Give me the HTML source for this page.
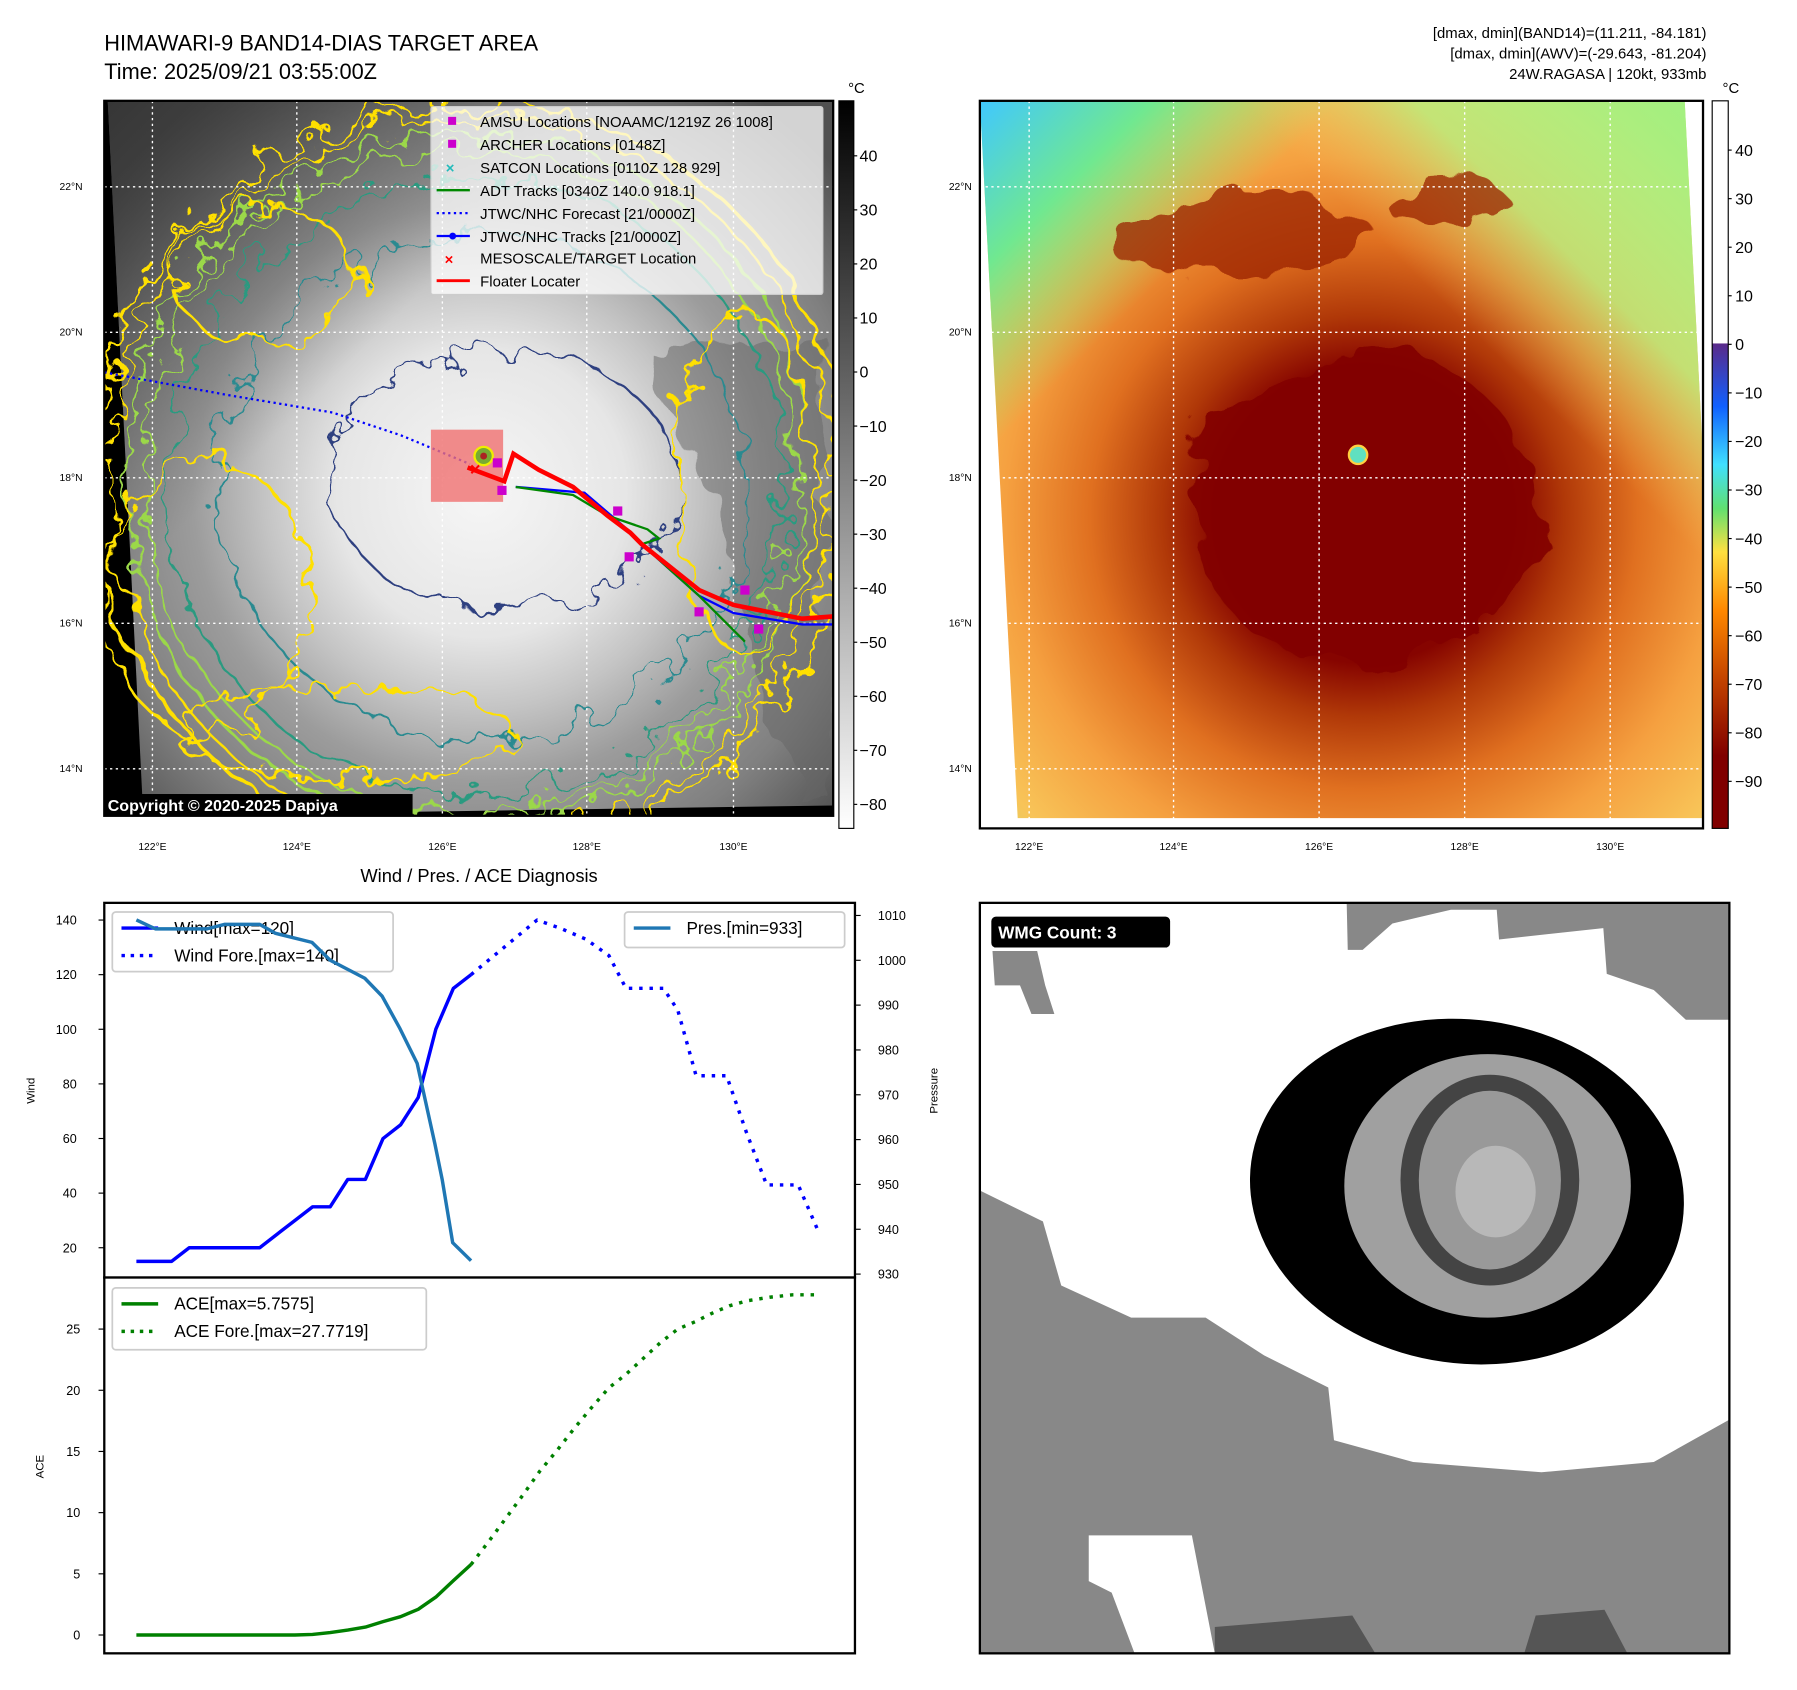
<!DOCTYPE html>
<html><head><meta charset="utf-8"><style>
html,body{margin:0;padding:0;background:#fff}
svg{display:block}
text{font-family:"Liberation Sans","DejaVu Sans",sans-serif}
</style></head><body>
<svg id="s" width="1797" height="1690" viewBox="0 0 1568 1475" preserveAspectRatio="none" xmlns="http://www.w3.org/2000/svg">
<defs>
<radialGradient id="g1" cx="420" cy="430" r="420" gradientUnits="userSpaceOnUse">
<stop offset="0" stop-color="#f6f6f6"/><stop offset="0.3" stop-color="#e6e6e6"/><stop offset="0.45" stop-color="#c4c4c4"/><stop offset="0.6" stop-color="#9c9c9c"/><stop offset="0.8" stop-color="#808080"/><stop offset="1" stop-color="#505050"/>
</radialGradient>
<linearGradient id="g1tl" x1="0" y1="0" x2="1" y2="1"><stop offset="0" stop-color="#333" stop-opacity=".9"/><stop offset=".35" stop-color="#444" stop-opacity="0"/></linearGradient>
<radialGradient id="g2" cx="1190" cy="450" r="460" gradientUnits="userSpaceOnUse">
<stop offset="0" stop-color="#800000"/><stop offset="0.28" stop-color="#860400"/><stop offset="0.38" stop-color="#b03808"/><stop offset="0.52" stop-color="#e07020"/><stop offset="0.68" stop-color="#f5a040"/><stop offset="0.85" stop-color="#f8c458"/><stop offset="1" stop-color="#c0e070"/>
</radialGradient>
<linearGradient id="g2tl" x1="0" y1="0" x2="1" y2="1"><stop offset="0" stop-color="#40c8ff"/><stop offset=".12" stop-color="#70e890"/><stop offset=".25" stop-color="#90e870" stop-opacity="0"/></linearGradient>
<linearGradient id="g2tr" x1="1" y1="0" x2="0" y2="1"><stop offset="0" stop-color="#a0f080"/><stop offset=".2" stop-color="#b8f080" stop-opacity=".8"/><stop offset=".32" stop-color="#f0c060" stop-opacity="0"/></linearGradient>
<linearGradient id="cb1" x1="0" y1="0" x2="0" y2="1"><stop offset="0" stop-color="#000"/><stop offset="1" stop-color="#fff"/></linearGradient>
<linearGradient id="cb2" x1="0" y1="0" x2="0" y2="1">
<stop offset="0" stop-color="#fff"/><stop offset=".333" stop-color="#fff"/><stop offset=".334" stop-color="#5a2a8a"/><stop offset=".42" stop-color="#1060ff"/><stop offset=".5" stop-color="#40e0ff"/><stop offset=".56" stop-color="#60e070"/><stop offset=".62" stop-color="#ffe040"/><stop offset=".7" stop-color="#ff8800"/><stop offset=".8" stop-color="#c04000"/><stop offset=".9" stop-color="#800000"/><stop offset="1" stop-color="#800000"/></linearGradient>
<filter id="wig" x="-10%" y="-10%" width="120%" height="120%"><feTurbulence type="fractalNoise" baseFrequency="0.035" numOctaves="3" seed="4"/><feDisplacementMap in="SourceGraphic" scale="45"/></filter>
<filter id="wig2" x="-10%" y="-10%" width="120%" height="120%"><feTurbulence type="fractalNoise" baseFrequency="0.02" numOctaves="3" seed="7"/><feDisplacementMap in="SourceGraphic" scale="60"/></filter>
<clipPath id="c1"><rect x="91" y="88" width="636" height="624"/></clipPath>
<clipPath id="c2"><rect x="855" y="88" width="631" height="635"/></clipPath>
<clipPath id="c3"><rect x="855" y="788" width="654" height="655"/></clipPath>
</defs>

<text x="91" y="44" font-size="19">HIMAWARI-9 BAND14-DIAS TARGET AREA</text>
<text x="91" y="69" font-size="19">Time: 2025/09/21 03:55:00Z</text>
<g font-size="13" text-anchor="end">
<text x="1489" y="33">[dmax, dmin](BAND14)=(11.211, -84.181)</text>
<text x="1489" y="51">[dmax, dmin](AWV)=(-29.643, -81.204)</text>
<text x="1489" y="69">24W.RAGASA | 120kt, 933mb</text>
</g>

<g clip-path="url(#c1)">
<rect x="91" y="88" width="636" height="624" fill="#000"/>
<polygon points="94,88 727,88 727,703 125,712" fill="url(#g1)"/>
<polygon points="94,88 727,88 727,703 125,712" fill="url(#g1tl)"/>
<path d="M560,300 C620,420 640,520 700,700 L727,700 L727,300 Z" fill="#666" opacity=".5" filter="url(#wig2)"/>
<g fill="none" filter="url(#wig)">
<ellipse cx="410" cy="420" rx="330" ry="330" stroke="#ffe000" stroke-width="3"/>
<ellipse cx="410" cy="420" rx="315" ry="318" stroke="#ffe000" stroke-width="2"/>
<ellipse cx="410" cy="420" rx="300" ry="305" stroke="#9bd84a" stroke-width="2.5"/>
<ellipse cx="410" cy="420" rx="285" ry="290" stroke="#9bd84a" stroke-width="2"/>
<ellipse cx="415" cy="425" rx="270" ry="270" stroke="#2a9a80" stroke-width="2"/>
<ellipse cx="420" cy="425" rx="230" ry="220" stroke="#2a8a90" stroke-width="2"/>
<ellipse cx="440" cy="420" rx="150" ry="115" stroke="#2e3f80" stroke-width="2"/>
<ellipse cx="230" cy="240" rx="80" ry="60" stroke="#ffe000" stroke-width="2.5"/>
<ellipse cx="180" cy="520" rx="90" ry="120" stroke="#ffe000" stroke-width="2.5"/>
<ellipse cx="650" cy="420" rx="60" ry="150" stroke="#ffe000" stroke-width="2.5"/>
<ellipse cx="300" cy="640" rx="150" ry="40" stroke="#ffe000" stroke-width="2.5"/>
</g>
<g stroke="#fff" stroke-width="1.2" stroke-dasharray="2,3">
<line x1="91" y1="163" x2="727" y2="163"/><line x1="91" y1="290" x2="727" y2="290"/><line x1="91" y1="417" x2="727" y2="417"/><line x1="91" y1="544" x2="727" y2="544"/><line x1="91" y1="671" x2="727" y2="671"/>
<line x1="133" y1="88" x2="133" y2="712"/><line x1="259" y1="88" x2="259" y2="712"/><line x1="386" y1="88" x2="386" y2="712"/><line x1="512" y1="88" x2="512" y2="712"/><line x1="640" y1="88" x2="640" y2="712"/>
</g>
<path d="M91,325 L200,345 L290,360 L350,380 L410,405" stroke="#00f" stroke-width="2" stroke-dasharray="2,3" fill="none"/>
<rect x="376" y="375" width="63" height="63" fill="#f07070" opacity=".8"/>
<circle cx="422" cy="398" r="8" fill="#7a3" stroke="#ee0" stroke-width="2"/><circle cx="422" cy="398" r="3" fill="#a22"/>
<polyline points="450,425 510,430 545,460 560,475 610,520 640,535 700,545 727,545" stroke="#00f" stroke-width="2" fill="none"/>
<polyline points="450,425 500,432 530,450 565,462 575,470 560,475 610,520 650,560" stroke="#080" stroke-width="2" fill="none"/>
<polyline points="408,408 440,420 448,396 470,410 500,425 530,450 550,465 560,475 610,515 640,528 700,540 727,538" stroke="#f00" stroke-width="4" fill="none"/>
<g fill="#c0c"><rect x="430" y="400" width="8" height="8"/><rect x="434" y="424" width="8" height="8"/><rect x="535" y="442" width="8" height="8"/><rect x="545" y="482" width="8" height="8"/><rect x="606" y="530" width="8" height="8"/><rect x="646" y="511" width="8" height="8"/><rect x="658" y="545" width="8" height="8"/></g>
<text x="410" y="415" fill="#f00" font-size="16" font-weight="bold">×</text>
<rect x="91" y="693" width="269" height="20" fill="#000"/>
<text x="94" y="708" fill="#fff" font-size="14" font-weight="bold">Copyright © 2020-2025 Dapiya</text>
</g>
<rect x="91" y="88" width="636" height="624" fill="none" stroke="#000" stroke-width="2"/>
<g>
<rect x="376" y="93" width="342" height="164" fill="#fff" fill-opacity=".75" stroke="#ccc" rx="2"/>
<g font-size="13">
<rect x="391" y="102" width="7" height="7" fill="#c0c"/><text x="419" y="111">AMSU Locations [NOAAMC/1219Z 26 1008]</text>
<rect x="391" y="122" width="7" height="7" fill="#c0c"/><text x="419" y="131">ARCHER Locations [0148Z]</text>
<text x="389" y="151" fill="#2bb" font-weight="bold">×</text><text x="419" y="151">SATCON Locations [0110Z 128 929]</text>
<line x1="381" y1="166" x2="410" y2="166" stroke="#080" stroke-width="2"/><text x="419" y="171">ADT Tracks [0340Z 140.0 918.1]</text>
<line x1="381" y1="186" x2="410" y2="186" stroke="#00f" stroke-width="2" stroke-dasharray="2,3"/><text x="419" y="191">JTWC/NHC Forecast [21/0000Z]</text>
<line x1="381" y1="206" x2="410" y2="206" stroke="#00f" stroke-width="2"/><circle cx="395" cy="206" r="3" fill="#00f"/><text x="419" y="211">JTWC/NHC Tracks [21/0000Z]</text>
<text x="388" y="231" fill="#f00" font-weight="bold">×</text><text x="419" y="230">MESOSCALE/TARGET Location</text>
<line x1="381" y1="245" x2="410" y2="245" stroke="#f00" stroke-width="2.5"/><text x="419" y="250">Floater Locater</text>
</g></g>
<g font-size="9">
<g text-anchor="end"><text x="72" y="166">22°N</text><text x="72" y="293">20°N</text><text x="72" y="420">18°N</text><text x="72" y="547">16°N</text><text x="72" y="674">14°N</text></g>
<g text-anchor="middle"><text x="133" y="742">122°E</text><text x="259" y="742">124°E</text><text x="386" y="742">126°E</text><text x="512" y="742">128°E</text><text x="640" y="742">130°E</text></g>
</g>
<g>
<rect x="732" y="88" width="13" height="635" fill="url(#cb1)" stroke="#000" stroke-width="1"/>
<text x="740" y="81" font-size="13">°C</text>
<g font-size="14" id="cb1l"></g>
</g>

<g clip-path="url(#c2)">
<rect x="855" y="88" width="631" height="635" fill="#fff"/>
<polygon points="855,88 1470,88 1486,400 1486,714 888,714" fill="url(#g2)"/>
<polygon points="855,88 1470,88 1486,400 1486,714 888,714" fill="url(#g2tl)"/>
<polygon points="855,88 1470,88 1486,400 1486,714 888,714" fill="url(#g2tr)"/>
<g filter="url(#wig2)">
<ellipse cx="1080" cy="205" rx="120" ry="35" fill="#9a2000" opacity=".75"/>
<ellipse cx="1260" cy="175" rx="55" ry="20" fill="#9a2000" opacity=".75"/>
<ellipse cx="1190" cy="445" rx="150" ry="140" fill="#820200" opacity=".9"/>
</g>
<circle cx="1185" cy="397" r="8" fill="#60e0c0" stroke="#ffd040" stroke-width="2"/>
<g stroke="#fff" stroke-width="1.2" stroke-dasharray="2,3">
<line x1="855" y1="163" x2="1486" y2="163"/><line x1="855" y1="290" x2="1486" y2="290"/><line x1="855" y1="417" x2="1486" y2="417"/><line x1="855" y1="544" x2="1486" y2="544"/><line x1="855" y1="671" x2="1486" y2="671"/>
<line x1="898" y1="88" x2="898" y2="723"/><line x1="1024" y1="88" x2="1024" y2="723"/><line x1="1151" y1="88" x2="1151" y2="723"/><line x1="1278" y1="88" x2="1278" y2="723"/><line x1="1405" y1="88" x2="1405" y2="723"/>
</g>
</g>
<rect x="855" y="88" width="631" height="635" fill="none" stroke="#000" stroke-width="2"/>
<g font-size="9">
<g text-anchor="end"><text x="848" y="166">22°N</text><text x="848" y="293">20°N</text><text x="848" y="420">18°N</text><text x="848" y="547">16°N</text><text x="848" y="674">14°N</text></g>
<g text-anchor="middle"><text x="898" y="742">122°E</text><text x="1024" y="742">124°E</text><text x="1151" y="742">126°E</text><text x="1278" y="742">128°E</text><text x="1405" y="742">130°E</text></g>
</g>
<g>
<rect x="1494" y="88" width="14" height="635" fill="url(#cb2)" stroke="#000" stroke-width="1"/>
<text x="1503" y="81" font-size="13">°C</text>
<g font-size="14" id="cb2l"></g>
</g>

<g clip-path="url(#c3)">
<rect x="855" y="788" width="654" height="655" fill="#fff"/>
<polygon points="855,1039 910,1066 926,1122 987,1150 1052,1150 1103,1183 1159,1211 1164,1257 1233,1276 1345,1285 1443,1276 1509,1239 1509,1443 855,1443" fill="#888"/>
<polygon points="1175,785 1509,785 1509,890 1471,890 1443,864 1402,850 1399,810 1308,820 1306,794 1266,794 1215,806 1189,829 1176,829" fill="#888"/>
<polygon points="866,830 905,830 912,860 920,885 900,885 890,860 868,860" fill="#888"/>
<polygon points="950,1340 1040,1340 1060,1443 990,1443 970,1390 950,1380" fill="#fff"/>
<polygon points="1060,1420 1180,1410 1200,1443 1060,1443" fill="#555"/>
<polygon points="1340,1410 1400,1405 1420,1443 1330,1443" fill="#555"/>
<ellipse cx="1280" cy="1040" rx="190" ry="150" fill="#000" transform="rotate(8 1280 1040)"/>
<ellipse cx="1298" cy="1035" rx="125" ry="115" fill="#a0a0a0"/>
<ellipse cx="1300" cy="1030" rx="78" ry="92" fill="#444"/>
<ellipse cx="1300" cy="1030" rx="62" ry="78" fill="#999"/>
<ellipse cx="1305" cy="1040" rx="35" ry="40" fill="#b8b8b8"/>
</g>
<rect x="855" y="788" width="654" height="655" fill="none" stroke="#000" stroke-width="2"/>
<rect x="865" y="800" width="156" height="27" rx="4" fill="#000"/>
<text x="871" y="819" fill="#fff" font-size="15" font-weight="bold">WMG Count: 3</text>

<text x="418" y="770" font-size="16" text-anchor="middle">Wind / Pres. / ACE Diagnosis</text>
<g id="chart"></g>
</svg>
<script>
const cb1Ticks=["40","30","20","10","0","−10","−20","−30","−40","−50","−60","−70","−80"];
const cb2Ticks=["40","30","20","10","0","−10","−20","−30","−40","−50","−60","−70","−80","−90"];
const windObsIdx=[0,1,2,3,4,5,6,7,8,9,10,11,12,13,14,15,16,17,18,19];
const windObs=[15,15,15,20,20,20,20,20,25,30,35,35,45,45,60,65,75,100,115,120];
const windForeIdx=[19,22.75,24.06,25.52,26.83,27.8,29.92,30.74,31.78,33.51,34.65,35.79,37.58,38.79];
const windFore=[120,140,137,133,127,115,115,107,83,83,62,43,43,25];
const presIdx=[0,1.08,2.05,4,5,7,7.9,9.97,11,12.97,13.95,14.93,15.94,16.95,17.37,17.96,19];
const pres=[1009,1007,1007,1007,1008,1008,1006,1004,1000,996,992,985,977,959,951,937,933];
const aceObsIdx=[0,9,10,11,12,13,14,15,16,17,18,19];
const aceObs=[0,0,0.05,0.2,0.4,0.65,1.1,1.5,2.1,3.1,4.45,5.76];
const aceForeIdx=[19,19.98,20.96,21.93,22.91,23.89,24.87,25.85,26.83,27.8,28.78,29.76,30.74,31.72,32.7,33.67,34.65,35.95,37.26,38.79];
const aceFore=[5.76,7.6,9.5,11.4,13.4,15.1,16.9,18.6,20.2,21.3,22.6,23.9,25,25.6,26.3,26.9,27.3,27.6,27.8,27.8];
const windTicks=[20,40,60,80,100,120,140];
const presTicks=[930,940,950,960,970,980,990,1000,1010];
const aceTicks=[0,5,10,15,20,25];

const NS='http://www.w3.org/2000/svg';
function mk(tag,attrs,parent){const e=document.createElementNS(NS,tag);for(const k in attrs)e.setAttribute(k,attrs[k]);parent.appendChild(e);return e;}
const g1=document.getElementById('cb1l');
cb1Ticks.forEach((t,i)=>{const y=136+i*47.17;const tx=mk('text',{x:750,y:y+5},g1);tx.textContent=t;


mk('line',{x1:745,x2:748,y1:y,y2:y,stroke:'#000'},g1);});
const g2=document.getElementById('cb2l');
cb2Ticks.forEach((t,i)=>{const y=131+i*42.38;const tx=mk('text',{x:1514,y:y+5},g2);tx.textContent=t;


mk('line',{x1:1508,x2:1511,y1:y,y2:y,stroke:'#000'},g2);});

const X=i=>119+i*(292/19);
const YW=v=>803+(140-v)*(286/120);
const YP=p=>799+(1010-p)*(313/80);
const YA=v=>1427-v*(267/25);
const C=document.getElementById('chart');
function line(xs,ys,fx,fy,color,dash,name){
  const pts=xs.map((x,i)=>X(x).toFixed(1)+','+fy(ys[i]).toFixed(1)).join(' ');
  const p=mk('polyline',{points:pts,fill:'none',stroke:color,'stroke-width':3,'stroke-dasharray':dash||'none','stroke-linejoin':'round'},C);
  
  
}
mk('rect',{x:91,y:788,width:655,height:327,fill:'#fff',stroke:'#000','stroke-width':2},C);
mk('rect',{x:91,y:1115,width:655,height:328,fill:'#fff',stroke:'#000','stroke-width':2},C);
windTicks.forEach(v=>{const y=YW(v);mk('line',{x1:86,x2:91,y1:y,y2:y,stroke:'#000'},C);const t=mk('text',{x:67,y:y+4,'font-size':11,'text-anchor':'end'},C);t.textContent=v;

});
presTicks.forEach(v=>{const y=YP(v);mk('line',{x1:746,x2:751,y1:y,y2:y,stroke:'#000'},C);const t=mk('text',{x:766,y:y+4,'font-size':11},C);t.textContent=v;

});
aceTicks.forEach(v=>{const y=YA(v);mk('line',{x1:86,x2:91,y1:y,y2:y,stroke:'#000'},C);const t=mk('text',{x:70,y:y+4,'font-size':11,'text-anchor':'end'},C);t.textContent=v;

});
[['Wind',30,952],['Pressure',818,952],['ACE',38,1280]].forEach(a=>{const t=mk('text',{x:a[1],y:a[2],'font-size':10,'text-anchor':'middle',transform:'rotate(-90 '+a[1]+' '+a[2]+')'},C);t.textContent=a[0];

});
function legend(x,y,w,h,items,name){
  const g=mk('g',{},C);
  
  
  mk('rect',{x:x,y:y,width:w,height:h,fill:'#fff','fill-opacity':0.8,stroke:'#ccc','stroke-width':1.5,rx:3},g);
  items.forEach((it,i)=>{const yy=y+14+i*24;mk('line',{x1:x+8,x2:x+40,y1:yy,y2:yy,stroke:it[1],'stroke-width':3,'stroke-dasharray':it[2]||'none'},g);
   const t=mk('text',{x:x+54,y:yy+5,'font-size':15},g);t.textContent=it[0];});
}
legend(98,796,245,52,[['Wind[max=120]','#00f'],['Wind Fore.[max=140]','#00f','3,5']],'wind-legend');
legend(545,796,192,31,[['Pres.[min=933]','#1f77b4']],'pressure-legend');
legend(98,1124,274,54,[['ACE[max=5.7575]','#008000'],['ACE Fore.[max=27.7719]','#008000','3,5']],'ace-legend');
line(windObsIdx,windObs,X,YW,'#0000ff',null,'wind-line');
line(windForeIdx,windFore,X,YW,'#0000ff','3,6','wind-forecast-line');
line(presIdx,pres,X,YP,'#1f77b4',null,'pressure-line');
line(aceObsIdx,aceObs,X,YA,'#008000',null,'ace-line');
line(aceForeIdx,aceFore,X,YA,'#008000','3,6','ace-forecast-line');
</script>
</body></html>
